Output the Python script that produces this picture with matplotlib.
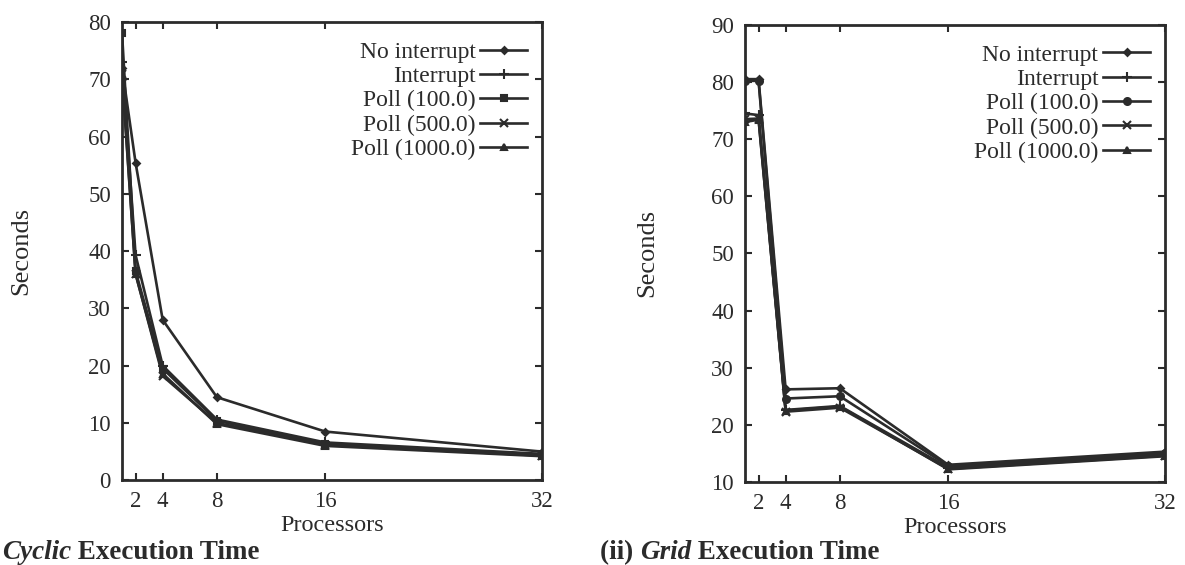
import numpy as np
import matplotlib
matplotlib.use("Agg")
import matplotlib.pyplot as plt

plt.rcParams['font.family'] = ['Liberation Serif', 'DejaVu Serif']

# processors on the x axis
procs = [1, 2, 4, 8, 16, 32]
labels = ["No interrupt", "Interrupt", "Poll (100.0)", "Poll (500.0)", "Poll (1000.0)"]

# (i) Cyclic execution time, seconds
cyc_noint = [72.0, 55.4, 28.0, 14.5, 8.5, 5.0]
cyc_int = [73.0, 39.3, 20.0, 10.6, 6.6, 4.6]
cyc_p100 = [78.0, 36.5, 19.5, 10.4, 6.3, 4.5]
cyc_p500 = [71.0, 36.0, 18.2, 10.0, 6.2, 4.3]
cyc_p1000 = [70.4, 36.0, 18.6, 9.8, 6.0, 4.2]

# (ii) Grid execution time, seconds
grid_noint = [80.5, 80.5, 26.2, 26.4, 13.0, 15.3]
grid_int = [74.5, 74.2, 22.6, 23.3, 12.5, 14.8]
grid_p100 = [80.2, 80.2, 24.6, 25.0, 12.8, 15.0]
grid_p500 = [73.5, 73.6, 22.3, 23.0, 12.3, 14.6]
grid_p1000 = [73.0, 73.4, 22.5, 23.2, 12.2, 14.5]

markers_left = ['D', '+', 's', 'x', '^']
markers_right = ['D', '+', 'o', 'x', '^']
sizes = [3.5, 7, 5, 6, 5]
col = '#2b2b2b'

fig = plt.figure(figsize=(11.85, 5.65), dpi=100)
ax1 = fig.add_axes([0.103, 0.150, 0.3544, 0.811])
ax2 = fig.add_axes([0.6287, 0.147, 0.3544, 0.809])


def draw(ax, series, markers, ylim, yticks):
    for s, m, ms, lab in zip(series, markers, sizes, labels):
        ax.plot(procs, s, color=col, lw=1.9, marker=m, ms=ms, mew=1.5, label=lab)
    ax.set_xlim(1, 32)
    ax.set_ylim(*ylim)
    ax.set_xticks([2, 4, 8, 16, 32])
    ax.set_yticks(yticks)
    ax.tick_params(direction='in', length=5, width=1.5, top=True, right=True,
                   labelsize=16.5, pad=8, colors=col)
    for sp in ax.spines.values():
        sp.set_linewidth(2)
        sp.set_color(col)
    ax.set_xlabel("Processors", fontsize=17.5, labelpad=2, color=col)
    ax.legend(loc='upper right', bbox_to_anchor=(0.965, 0.958), frameon=False,
              markerfirst=False, fontsize=17, handlelength=2.0, handletextpad=0.2,
              labelspacing=0.12, borderpad=0, borderaxespad=0, labelcolor=col)


draw(ax1, [cyc_noint, cyc_int, cyc_p100, cyc_p500, cyc_p1000], markers_left,
     (0, 80), np.arange(0, 81, 10))
draw(ax2, [grid_noint, grid_int, grid_p100, grid_p500, grid_p1000], markers_right,
     (10, 90), np.arange(10, 91, 10))
ax1.set_ylabel("Seconds", fontsize=19, labelpad=40, color=col)
ax2.set_ylabel("Seconds", fontsize=19, labelpad=38, color=col)

# captions (the "(i)" of the left one is cut off in the original scan)
cap = dict(fontsize=19.5, weight='bold', color=col)
t1 = fig.text(0.002, 0.0106, "Cyclic", style='italic', va='baseline', **cap)
ax1.annotate(" Execution Time", xy=(1, 0), xycoords=t1, ha='left', va='bottom',
             annotation_clip=False, **cap)

t2 = fig.text(0.5063, 0.0106, "(ii) ", va='baseline', **cap)
t3 = ax2.annotate("Grid", xy=(1, 0), xycoords=t2, ha='left', va='bottom',
                  style='italic', annotation_clip=False, **cap)
ax2.annotate(" Execution Time", xy=(1, 0), xycoords=t3, ha='left', va='bottom',
             annotation_clip=False, **cap)

fig.savefig("out.png", dpi=100)
